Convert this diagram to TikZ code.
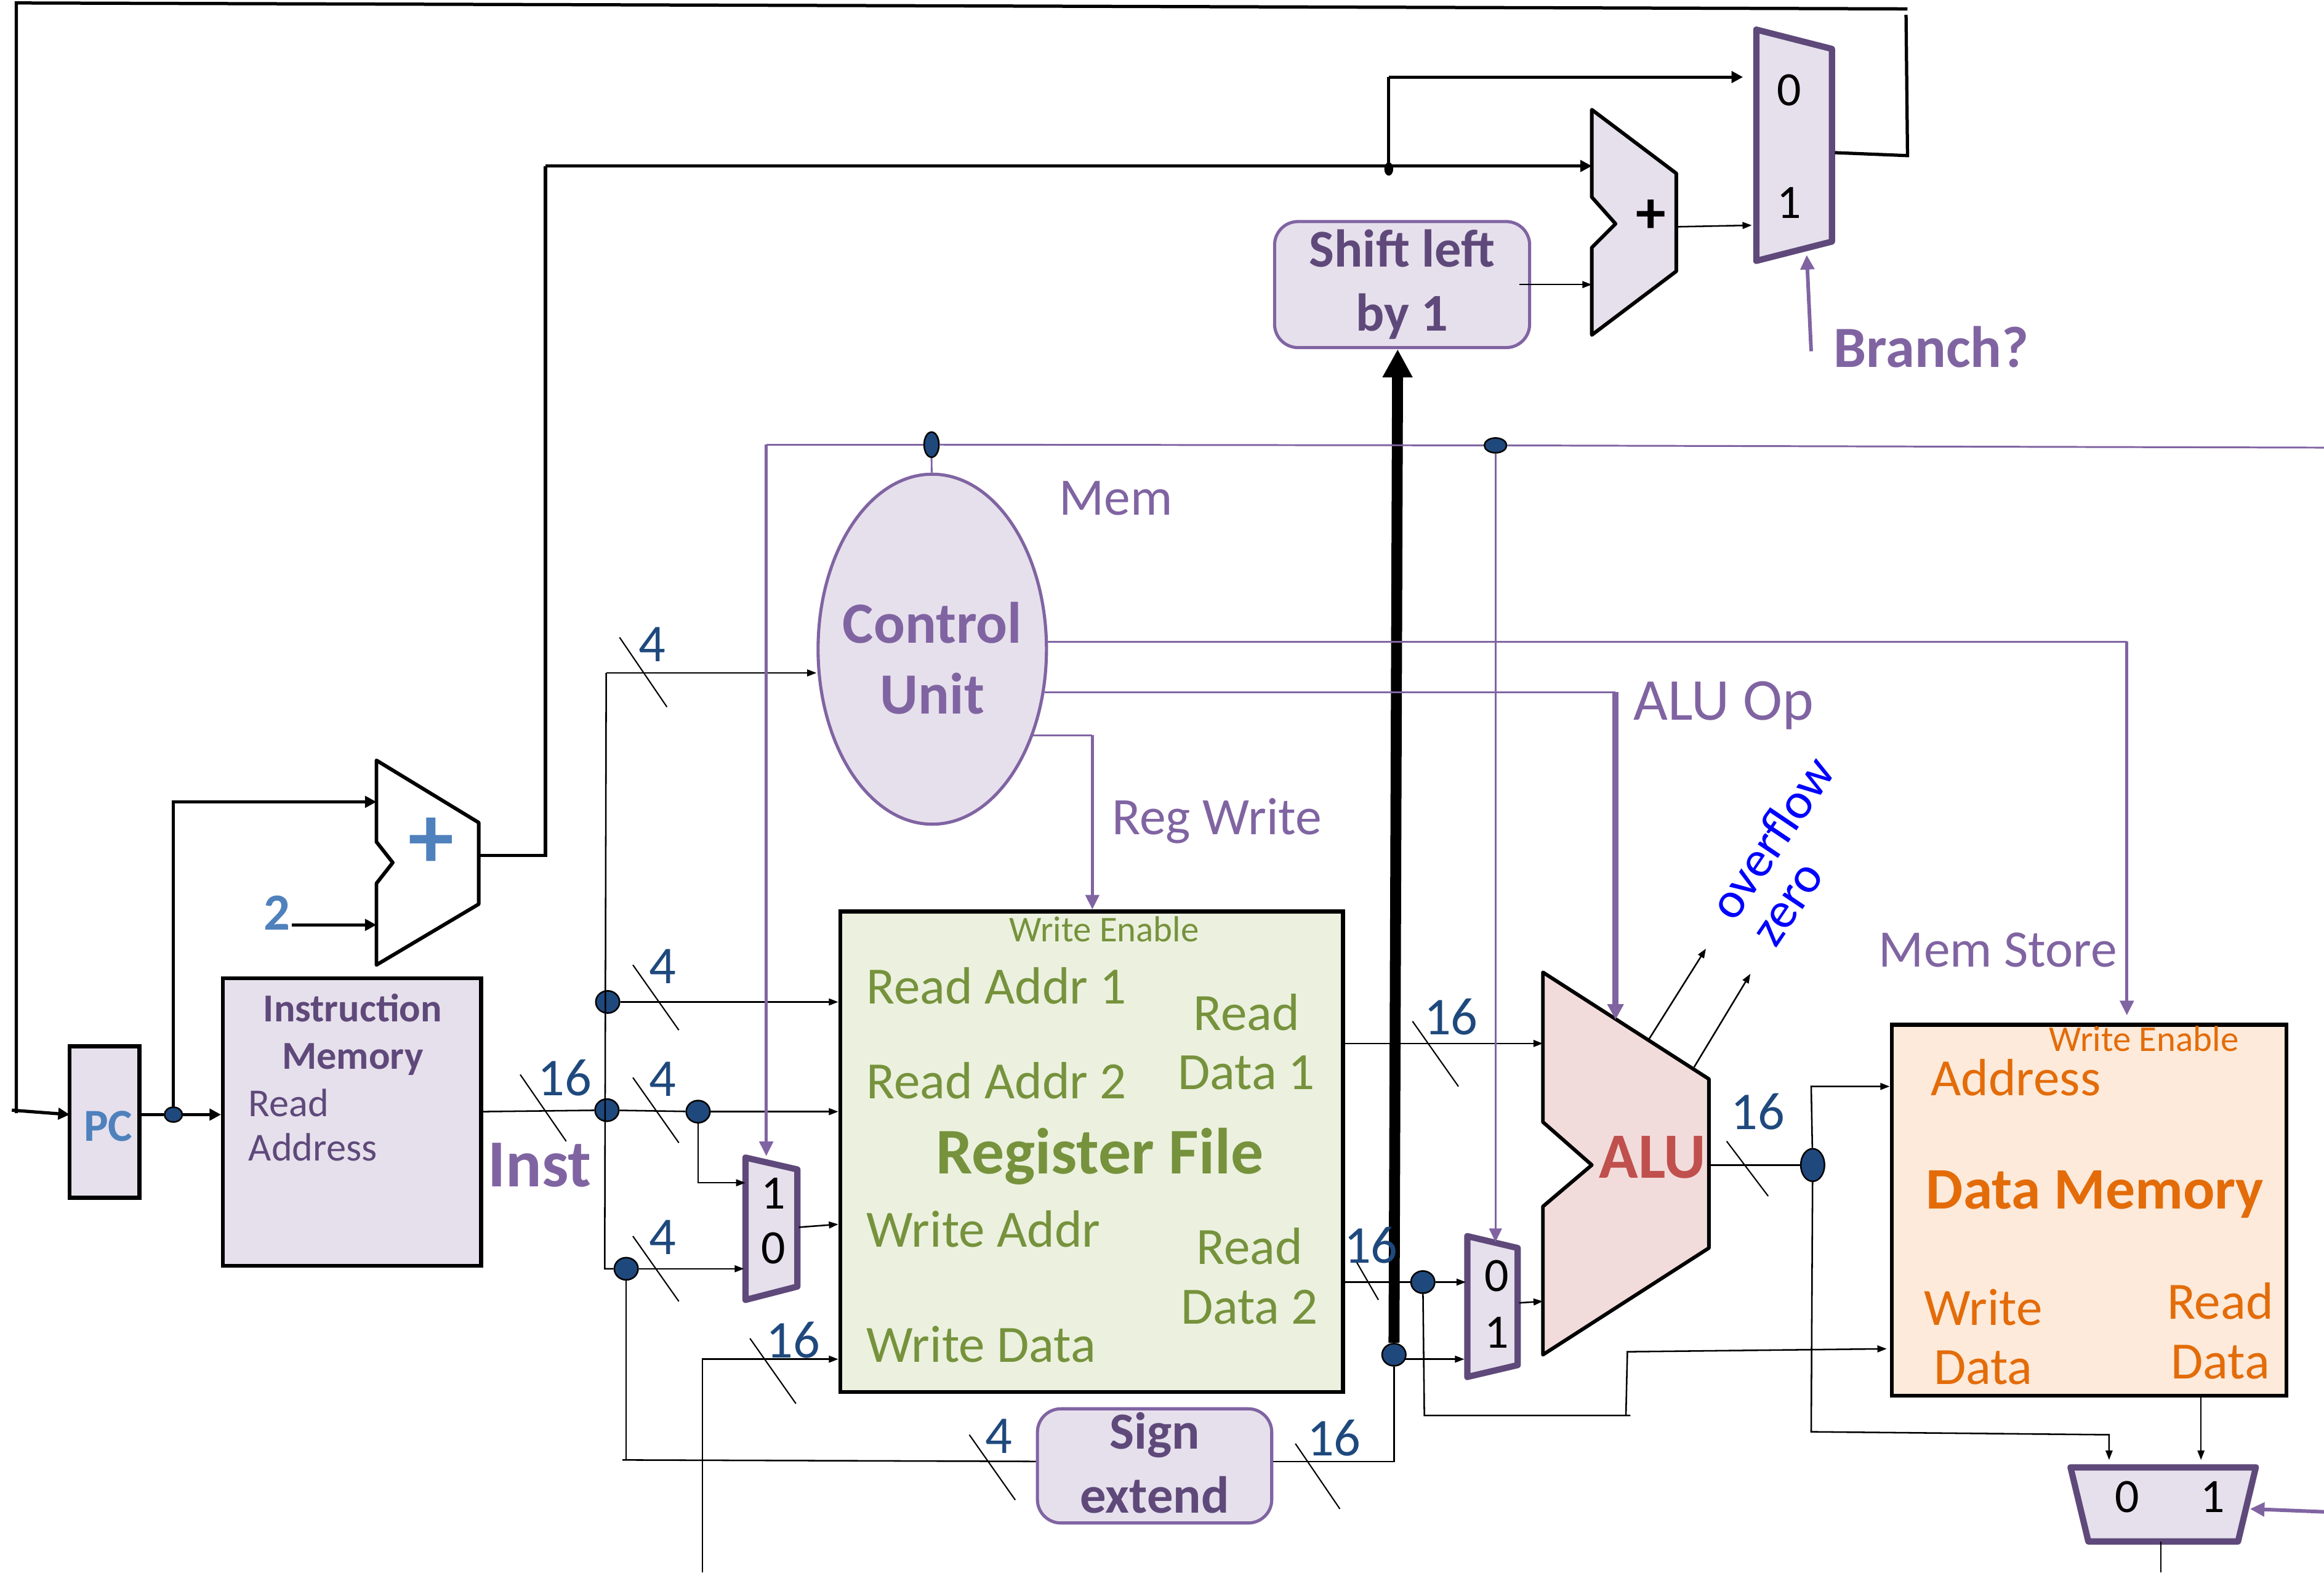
\documentclass[tikz,border=0pt]{standalone}
\usepackage{fontspec}
\setmainfont{Carlito}
\usetikzlibrary{shapes.geometric, arrows.meta, positioning, calc}
\definecolor{lilacFill}{HTML}{E6E0EC}
\definecolor{lilacEdge}{HTML}{8064A2}
\definecolor{lilacDark}{HTML}{5F497A}
\definecolor{greenFill}{HTML}{EBF1DE}
\definecolor{greenText}{HTML}{76923C}
\definecolor{orangeFill}{HTML}{FDEADA}
\definecolor{orangeText}{HTML}{E36C09}
\definecolor{redFill}{HTML}{F2DCDB}
\definecolor{redText}{HTML}{C0504D}
\definecolor{blueText}{HTML}{4F81BD}
\definecolor{busBlue}{HTML}{1F497D}
\tikzstyle{blockbox} = [rectangle, draw=black, line width=0.75pt, inner sep=0pt, fill=lilacFill]
\tikzstyle{softbox} = [rectangle, rounded corners=4.5pt, draw=lilacEdge, line width=0.6pt, fill=lilacFill, inner sep=0pt]
\tikzstyle{muxbox} = [draw=lilacDark, line width=1.2pt, fill=lilacFill, line join=round]
\tikzstyle{adderbox} = [draw=black, line width=0.7pt, line join=round]
\tikzstyle{dot} = [ellipse, draw=black, line width=0.3pt, fill=busBlue, inner sep=0pt, minimum width=0.16cm, minimum height=0.15cm]
\tikzstyle{wire} = [draw=black, line width=0.3pt]
\tikzstyle{wirearrow} = [wire, -{Triangle[length=1.8pt,width=1.3pt]}]
\tikzstyle{bus} = [draw=black, line width=0.62pt]
\tikzstyle{busarrow} = [bus, -{Triangle[length=2.2pt,width=2.2pt]}]
\tikzstyle{ctrl} = [draw=lilacEdge, line width=0.35pt]
\tikzstyle{ctrlarrow} = [ctrl, -{Triangle[length=2.6pt,width=2.4pt]}]
\tikzstyle{ctrlmid} = [draw=lilacEdge, line width=0.6pt, -{Triangle[length=2.8pt,width=2.6pt]}]
\tikzstyle{ctrlthick} = [draw=lilacEdge, line width=1.15pt, -{Triangle[length=3pt,width=3pt]}]
\tikzstyle{slash} = [draw=black, line width=0.25pt]
\tikzstyle{buswidth} = [text=busBlue, font=\fontsize{10.2}{11}\selectfont, inner sep=0pt]
\tikzstyle{muxdigit} = [text=black, font=\fontsize{9.2}{10}\selectfont, inner sep=0pt]
\tikzstyle{ctrllabel} = [text=lilacEdge, font=\fontsize{10.1}{11}\selectfont, inner sep=0pt]
\tikzstyle{boldlabel} = [text=lilacEdge, font=\bfseries\fontsize{11.2}{12}\selectfont, inner sep=0pt]
\tikzstyle{rflabel} = [text=greenText, font=\fontsize{10.05}{11.4}\selectfont, inner sep=0pt]
\tikzstyle{memlabel} = [text=orangeText, font=\fontsize{10.05}{11.4}\selectfont, inner sep=0pt]
\tikzstyle{imlabel} = [text=lilacDark, font=\fontsize{7.6}{8.5}\selectfont, inner sep=0pt]
\begin{document}
\begin{tikzpicture}[x=0.01cm, y=-0.01cm]
    \useasboundingbox (0,0) rectangle (1568,1061);

    % blocks
    \node (pc) [blockbox, minimum width=0.47cm, minimum height=1.02cm] at (70.5,757) {};
    \node (imem) [blockbox, minimum width=1.74cm, minimum height=1.94cm] at (237.5,757) {};
    \node (rf) [blockbox, fill=greenFill, minimum width=3.39cm, minimum height=3.24cm] at (736.5,777) {};
    \node (dmem) [blockbox, fill=orangeFill, minimum width=2.66cm, minimum height=2.5cm] at (1409.5,816.5) {};
    \node (shift) [softbox, minimum width=1.72cm, minimum height=0.85cm] at (946,192) {};
    \node (sign) [softbox, minimum width=1.58cm, minimum height=0.77cm] at (779,989) {};
    \node (control) [ellipse, draw=lilacEdge, line width=0.6pt, fill=lilacFill, inner sep=0pt, minimum width=1.54cm, minimum height=2.36cm] at (629,438) {};

    % adders, ALU and muxes
    \draw [adderbox] (254,513) -- (323,555) -- (323,610) -- (254,651) -- (254,596) -- (265,582) -- (254,568) -- cycle;
    \draw [adderbox, fill=lilacFill] (1074,74) -- (1131,117) -- (1131,183) -- (1074,226) -- (1074,167) -- (1090,151) -- (1074,133) -- cycle;
    \draw [adderbox, fill=redFill] (1041,656) -- (1153,728) -- (1153,842) -- (1041,914) -- (1041,814) -- (1074,786) -- (1041,757) -- cycle;
    \draw [muxbox] (1185,20) -- (1236,33) -- (1236,163) -- (1185,176) -- cycle;
    \draw [muxbox] (503,781) -- (538,789) -- (538,868) -- (503,877) -- cycle;
    \draw [muxbox] (990,834) -- (1024,842) -- (1024,921) -- (990,929) -- cycle;
    \draw [muxbox] (1397,990) -- (1522,990) -- (1510,1040) -- (1409,1040) -- cycle;

    % junctions
    \node (dotPc) [dot, minimum width=0.12cm, minimum height=0.1cm] at (117,752) {};
    \node (dotA) [dot] at (410,676) {};
    \node (dotB) [dot] at (409.5,749) {};
    \node (dotC) [dot] at (471,750) {};
    \node (dotD) [dot] at (422.5,856) {};
    \node (dotE) [dot] at (940.5,914) {};
    \node (dotF) [dot] at (960,865) {};
    \node (dotG) [dot, minimum width=0.16cm, minimum height=0.22cm] at (1223,786) {};
    \node (dotH) [dot, minimum width=0.1cm, minimum height=0.17cm] at (628.5,300) {};
    \node (dotI) [dot, minimum width=0.15cm, minimum height=0.1cm] at (1009,300.5) {};
    \node (dotJ) [ellipse, fill=black, inner sep=0pt, minimum width=0.06cm, minimum height=0.09cm] at (937,114) {};

    % free ends
    \coordinate (topLeft) at (11,2);
    \coordinate (topRight) at (1287,6);
    \coordinate (pcStub) at (8,749);
    \coordinate (pcIn) at (47,752);
    \coordinate (pcDrop) at (11,751);
    \coordinate (fbTop) at (1286,10);
    \coordinate (fbLow) at (1287,105);
    \coordinate (branchOut) at (1238,103);
    \coordinate (branchIn0) at (1176,52);
    \coordinate (branchIn1) at (1182,152);
    \coordinate (adderTwoOut) at (1132,153);
    \coordinate (adderTwoA) at (1074,112);
    \coordinate (adderTwoB) at (1074,192);
    \coordinate (shiftOut) at (1025,192);
    \coordinate (adderOneA) at (254,541);
    \coordinate (adderOneB) at (254,624);
    \coordinate (adderOneOut) at (323,577);
    \coordinate (two) at (197,624);
    \coordinate (riseTop) at (368,112);
    \coordinate (forkTop) at (937,52);
    \coordinate (forkLow) at (937,112);
    \coordinate (instStart) at (325,750);
    \coordinate (spineTop) at (409,454);
    \coordinate (spineLow) at (408,856);
    \coordinate (wdBottom) at (474,1061);
    \coordinate (muxRegA) at (503,798);
    \coordinate (muxRegB) at (502,856);
    \coordinate (muxRegOut) at (539,828);
    \coordinate (signStub) at (420,985);
    \coordinate (muxAluA) at (989,865);
    \coordinate (muxAluB) at (988,917);
    \coordinate (dotEOut) at (948,917);
    \coordinate (muxAluOut) at (1025,879);
    \coordinate (aluIn) at (1041,878);
    \coordinate (aluA) at (1041,704);
    \coordinate (aluOut) at (1153,786);
    \coordinate (memLoop) at (961,955);
    \coordinate (memLoopEnd) at (1100,955);
    \coordinate (memRise) at (1097,955);
    \coordinate (memBend) at (1098,912);
    \coordinate (memData) at (1273,910);
    \coordinate (memAddr) at (1275,733);
    \coordinate (addrCorner) at (1222,733);
    \coordinate (lowCorner) at (1222,966);
    \coordinate (lowBend) at (1423,968);
    \coordinate (muxLow0) at (1423,985);
    \coordinate (muxLow1) at (1485,985);
    \coordinate (muxLowOut) at (1458,1040);
    \coordinate (muxLowEnd) at (1458,1061);

    % datapath wires
    \draw [bus] (topRight) -- (topLeft) -- (pcDrop);
    \draw [busarrow] (pcStub) -- (pcIn);
    \draw [bus] (branchOut) -- (fbLow) -- (fbTop);
    \draw [busarrow] (pc.east |- dotPc) -- (dotPc) -- (imem.west |- dotPc);
    \draw [busarrow] (dotPc) |- (adderOneA);
    \draw [busarrow] (two) -- (adderOneB);
    \draw [bus] (adderOneOut) -| (riseTop);
    \draw [busarrow] (riseTop) -- (adderTwoA);
    \draw [bus] (forkLow) -- (forkTop);
    \draw [busarrow] (forkTop) -- (branchIn0);
    \draw [wirearrow] (adderTwoOut) -- (branchIn1);
    \draw [wirearrow] (shiftOut) -- (adderTwoB);
    \draw [wire] (instStart) -- (dotB);
    \draw [wire] (dotB) -- (dotC);
    \draw [wirearrow] (dotC) -- (rf.west |- dotC);
    \draw [wire] (spineTop) -- (spineLow) -- (dotD);
    \draw [wirearrow] (spineTop) -- (control.west |- spineTop);
    \draw [wirearrow] (dotA) -- (rf.west |- dotA);
    \draw [wirearrow] (dotC) |- (muxRegA);
    \draw [wirearrow] (dotD) -- (muxRegB);
    \draw [wirearrow] (muxRegOut) -- (rf.west |- 0,826);
    \draw [wire] (dotD) -- (dotD |- signStub);
    \draw [wire] (signStub) -- (sign.west |- 0,986);
    \draw [wirearrow] (wdBottom) |- (rf.west |- 0,917);
    \draw [wire] (sign.east |- 0,986) -| (dotE);
    \draw [wirearrow] (dotEOut) -- (muxAluB);
    \draw [wirearrow] (rf.east |- aluA) -- (aluA);
    \draw [wire] (rf.east |- muxAluA) -- (dotF);
    \draw [wirearrow] (dotF) -- (muxAluA);
    \draw [wirearrow] (muxAluOut) -- (aluIn);
    \draw [wire] (dotF) -- (memLoop) -- (memLoopEnd);
    \draw [wirearrow] (memRise) -- (memBend) -- (memData);
    \draw [wire] (aluOut) -- (dotG);
    \draw [wirearrow] (dotG) -- (addrCorner) -- (memAddr);
    \draw [wirearrow] (dotG) -- (lowCorner) -- (lowBend) -- (muxLow0);
    \draw [wirearrow] (dmem.south -| muxLow1) -- (muxLow1);
    \draw [wire] (muxLowOut) -- (muxLowEnd);
    \draw [wirearrow] (1112,702) -- (1151,640);
    \draw [wirearrow] (1143,720) -- (1181,657);

    % thick bus into the shifter
    \draw [draw=black, line width=2.1pt, -{Triangle[length=5.4pt,width=5.4pt]}] (dotE) -- (shift.south -| 943,0);

    % control lines
    \draw [ctrl] (dotH) -- (dotI);
    \draw [ctrl] (dotI) -- (1568,302);
    \draw [ctrl] (dotH) -- (517,300);
    \draw [ctrlmid] (517,300) -- (517,780);
    \draw [ctrlarrow] (dotI) -- (1009,838);
    \draw [ctrl] (dotH) -- (control);
    \draw [ctrl] (control.east |- 0,433) -- (1435,433);
    \draw [ctrlmid] (1435,433) -- (1435,685);
    \draw [ctrl] (705,467) -- (1090,467);
    \draw [ctrlthick] (1090,467) -- (1090,688);
    \draw [ctrl] (697,496) -- (737,496);
    \draw [ctrlmid] (737,496) -- (rf.north -| 737,0);
    \draw [draw=lilacEdge, line width=0.7pt, -{Triangle[length=2.8pt,width=2.6pt]}] (1222,237) -- (1219,172);
    \draw [draw=lilacEdge, line width=0.7pt, -{Triangle[length=2.8pt,width=2.6pt]}] (1568,1020) -- (1518,1018);

    % bus width marks
    \draw [slash] (418,430) -- (450,477);
    \draw [slash] (427,651) -- (458,695);
    \draw [slash] (351,725) -- (382,770);
    \draw [slash] (427,727) -- (458,771);
    \draw [slash] (427,834) -- (458,878);
    \draw [slash] (506,903) -- (537,947);
    \draw [slash] (654,968) -- (685,1012);
    \draw [slash] (874,974) -- (904,1018);
    \draw [slash] (953,689) -- (984,733);
    \draw [slash] (915,851) -- (930,877);
    \draw [slash] (1165,770) -- (1193,807);
    \node (widthA) [buswidth] at (440,435) {4};
    \node (widthB) [buswidth] at (447,652) {4};
    \node (widthC) [buswidth] at (381,727) {16};
    \node (widthD) [buswidth] at (447,728) {4};
    \node (widthE) [buswidth] at (447,835) {4};
    \node (widthF) [buswidth] at (535,904) {16};
    \node (widthG) [buswidth] at (674,969) {4};
    \node (widthH) [buswidth] at (900,970) {16};
    \node (widthI) [buswidth] at (979,686) {16};
    \node (widthJ) [buswidth] at (925,840) {16};
    \node (widthK) [buswidth] at (1186,750) {16};

    % texts
    \node (pcText) [text=blueText, font=\bfseries\fontsize{8.8}{10}\selectfont, inner sep=0pt] at (73,760) {PC};
    \node (plusOne) [text=blueText, font=\bfseries\fontsize{17.5}{18}\selectfont, inner sep=0pt] at (291,569) {+};
    \node (plusTwo) [text=black, font=\bfseries\fontsize{11.5}{12}\selectfont, inner sep=0pt] at (1114,146) {+};
    \node (twoText) [text=blueText, font=\bfseries\fontsize{10}{10}\selectfont, inner sep=0pt] at (187,616) {2};
    \node (imTitle) [imlabel, font=\bfseries\fontsize{7.6}{9.1}\selectfont, align=center] at (238,698) {Instruction\\Memory};
    \node (imRead) [imlabel, anchor=west, align=left] at (167,759) {Read\\Address};
    \node (instText) [boldlabel, font=\bfseries\fontsize{12.9}{13}\selectfont] at (364,786) {Inst};
    \node (shiftText) [text=lilacDark, font=\bfseries\fontsize{10.2}{12.3}\selectfont, align=center, inner sep=0pt] at (946,192) {Shift left\\by 1};
    \node (signText) [text=lilacDark, font=\bfseries\fontsize{10}{12.3}\selectfont, align=center, inner sep=0pt] at (779,987) {Sign\\extend};
    \node (controlText) [text=lilacEdge, font=\bfseries\fontsize{11.2}{13.6}\selectfont, align=center, inner sep=0pt] at (629,444) {Control\\Unit};
    \node (branchText) [boldlabel] at (1303,234) {Branch?};
    \node (memText) [ctrllabel] at (753,336) {Mem};
    \node (aluOpText) [ctrllabel, font=\fontsize{11.4}{12}\selectfont] at (1163,476) {ALU Op};
    \node (regWriteText) [ctrllabel] at (821,554) {Reg Write};
    \node (memStoreText) [ctrllabel] at (1348,641) {Mem Store};
    \node (overflowText) [text=blue, font=\fontsize{9.8}{10}\selectfont, rotate=56, inner sep=0pt] at (1195,565) {overflow};
    \node (zeroText) [text=blue, font=\fontsize{9.8}{10}\selectfont, rotate=56, inner sep=0pt] at (1208,611) {zero};
    \node (aluText) [text=redText, font=\bfseries\fontsize{12.4}{13}\selectfont, inner sep=0pt] at (1115,781) {ALU};
    \node (rfEnable) [rflabel, font=\fontsize{6.95}{8}\selectfont] at (745,627) {Write Enable};
    \node (rfAddrOne) [rflabel, anchor=west] at (584,665) {Read Addr 1};
    \node (rfAddrTwo) [rflabel, anchor=west] at (584,729) {Read Addr 2};
    \node (rfAddrWr) [rflabel, anchor=west] at (584,829) {Write Addr};
    \node (rfDataWr) [rflabel, anchor=west] at (584,907) {Write Data};
    \node (rfTitle) [rflabel, font=\bfseries\fontsize{12.5}{13}\selectfont] at (742,780) {Register File};
    \node (rfDataOne) [rflabel, align=center] at (841,703) {Read\\Data 1};
    \node (rfDataTwo) [rflabel, align=center] at (843,861) {Read\\Data 2};
    \node (dmEnable) [memlabel, font=\fontsize{6.95}{8}\selectfont] at (1446.5,701) {Write Enable};
    \node (dmAddr) [memlabel, anchor=west] at (1302,727) {Address};
    \node (dmTitle) [memlabel, font=\bfseries\fontsize{11.3}{12}\selectfont] at (1413.5,806) {Data Memory};
    \node (dmWrite) [memlabel, align=center] at (1338,902) {Write\\Data};
    \node (dmRead) [memlabel, align=center] at (1498,898) {Read\\Data};
    \node (digitA) [muxdigit] at (1207,61) {0};
    \node (digitB) [muxdigit] at (1207,137) {1};
    \node (digitC) [muxdigit] at (522,805) {1};
    \node (digitD) [muxdigit] at (522,842) {0};
    \node (digitE) [muxdigit] at (1010,861) {0};
    \node (digitF) [muxdigit] at (1010,899) {1};
    \node (digitG) [muxdigit] at (1435,1010) {0};
    \node (digitH) [muxdigit] at (1493,1010) {1};
\end{tikzpicture}
\end{document}
